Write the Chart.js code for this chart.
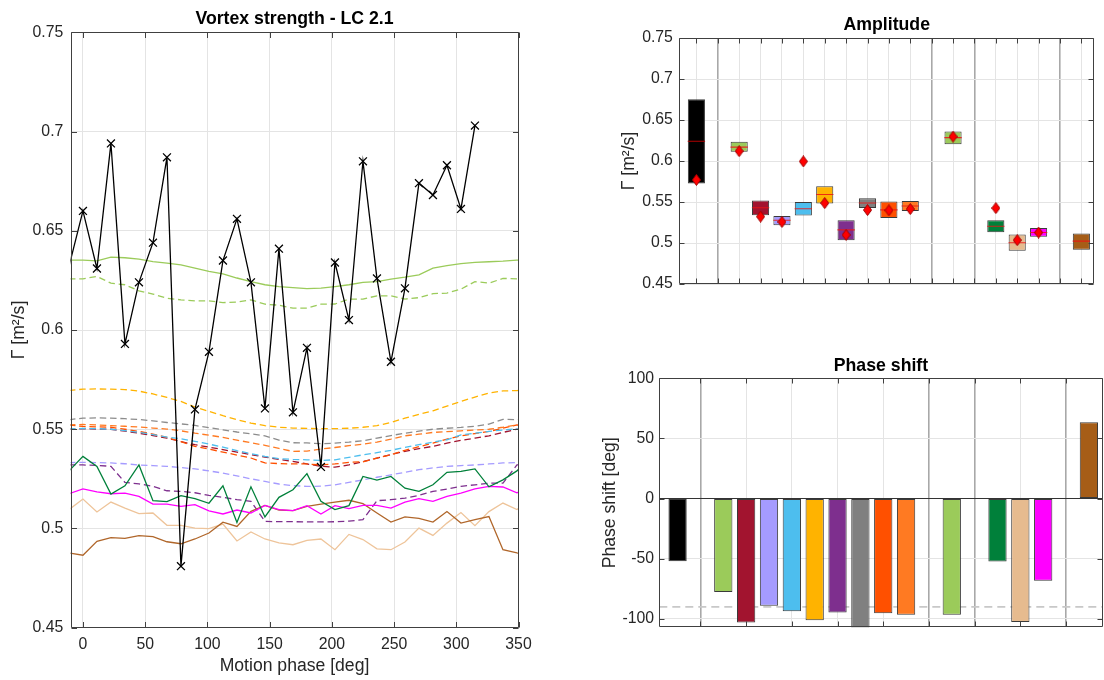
<!DOCTYPE html>
<html><head><meta charset="utf-8">
<script src="https://cdn.jsdelivr.net/npm/chart.js@4.4.1/dist/chart.umd.min.js"></script>
<style>
html,body{margin:0;padding:0;background:#fff;overflow:hidden;width:1104px;height:680px;}
canvas{position:absolute;}
#c1{left:0;top:0;}
#c2{left:560px;top:0;}
#c3{left:560px;top:330px;}
</style></head><body>
<canvas id="c1" width="560" height="680"></canvas>
<canvas id="c2" width="544" height="300"></canvas>
<canvas id="c3" width="544" height="350"></canvas>
<script>
// ---------- data: vortex strength vs motion phase ----------
const phases = [-11.25,0,11.25,22.5,33.75,45,56.25,67.5,78.75,90,101.25,112.5,123.75,135,146.25,157.5,168.75,180,191.25,202.5,213.75,225,236.25,247.5,258.75,270,281.25,292.5,303.75,315,326.25,337.5,348.75,360];
const measured = [0.632,0.660,0.631,0.694,0.593,0.624,0.644,0.687,0.481,0.560,0.589,0.635,0.656,0.624,0.5605,0.641,0.5585,0.591,0.531,0.634,0.605,0.685,0.626,0.584,0.621,0.674,0.668,0.683,0.661,0.703,null,null,null,null];
const lightGreenSolid = [0.6352,0.6352,0.6348,0.6367,0.6364,0.6357,0.6345,0.6337,0.6328,0.6312,0.6295,0.6283,0.6262,0.6244,0.6228,0.6219,0.6213,0.6208,0.6211,0.6219,0.6228,0.624,0.6244,0.6256,0.6266,0.6278,0.6312,0.6324,0.6334,0.6341,0.6344,0.6347,0.6352,0.6352];
const lightGreenDashed = [0.6258,0.6258,0.627,0.6236,0.6228,0.6197,0.6181,0.616,0.6152,0.6147,0.6147,0.6138,0.6141,0.6152,0.613,0.6125,0.611,0.611,0.613,0.6131,0.6156,0.6156,0.6172,0.6172,0.6156,0.6163,0.6183,0.6186,0.6206,0.6244,0.6236,0.626,0.6258,0.6258];
const goldDashed = [0.5695,0.5702,0.5703,0.5702,0.57,0.5692,0.5678,0.566,0.564,0.5612,0.559,0.5568,0.5548,0.5531,0.5518,0.551,0.5506,0.5504,0.5503,0.5503,0.5505,0.551,0.5518,0.5534,0.5556,0.5575,0.5593,0.5617,0.564,0.5662,0.5682,0.5693,0.5695,0.5702];
const grayDashed = [0.5548,0.5556,0.5557,0.5556,0.5553,0.5549,0.5542,0.5534,0.5527,0.5519,0.5508,0.5497,0.5486,0.5477,0.5467,0.5445,0.5432,0.5431,0.5427,0.543,0.5435,0.5442,0.5455,0.5468,0.548,0.549,0.55,0.5505,0.5509,0.5515,0.5526,0.555,0.5548,0.5556];
const orangeDashed = [0.5522,0.5524,0.5522,0.5518,0.5515,0.5511,0.5506,0.5501,0.5492,0.548,0.547,0.5459,0.5445,0.5432,0.5419,0.5403,0.5388,0.539,0.54,0.5408,0.5417,0.5425,0.5435,0.545,0.5467,0.5475,0.5484,0.5488,0.5492,0.5496,0.55,0.551,0.5522,0.5524];
const orangeRedDashed = [0.5522,0.5514,0.5512,0.551,0.55,0.5489,0.5475,0.5459,0.5437,0.5414,0.54,0.5385,0.537,0.5355,0.533,0.5327,0.5325,0.5325,0.532,0.5325,0.5333,0.5336,0.5355,0.5372,0.5394,0.5412,0.543,0.545,0.5467,0.5478,0.5489,0.5505,0.5522,0.5514];
const lightBlueDashed = [0.5502,0.5504,0.5503,0.55,0.5493,0.5484,0.5473,0.546,0.5452,0.5439,0.5425,0.541,0.5392,0.5377,0.5363,0.5352,0.5348,0.5346,0.5343,0.5346,0.5358,0.5371,0.5382,0.5394,0.5408,0.5422,0.5435,0.5447,0.5472,0.548,0.5489,0.5496,0.5502,0.5504];
const darkRedDashed = [0.55,0.5502,0.5501,0.55,0.549,0.548,0.5468,0.5455,0.5438,0.5422,0.541,0.5397,0.5385,0.5372,0.536,0.5348,0.5338,0.5325,0.5313,0.5309,0.532,0.5337,0.5355,0.5372,0.5389,0.5402,0.5414,0.543,0.5444,0.5455,0.5467,0.5484,0.55,0.5502];
const lavenderDashed = [0.5332,0.5333,0.5332,0.533,0.5326,0.532,0.5317,0.5313,0.5307,0.53,0.529,0.5279,0.5265,0.525,0.5237,0.5224,0.5216,0.5212,0.5213,0.522,0.5232,0.5245,0.5258,0.527,0.5283,0.5296,0.5305,0.5313,0.5317,0.532,0.5325,0.533,0.5332,0.5333];
const purpleDashed = [0.532,0.532,0.5318,0.5313,0.5232,0.5225,0.5212,0.519,0.5187,0.518,0.5167,0.5157,0.5145,0.5137,0.5036,0.5034,0.5034,0.5033,0.5033,0.5034,0.5037,0.5044,0.514,0.5145,0.5153,0.5167,0.5187,0.5198,0.5212,0.522,0.5228,0.5228,0.532,0.532];
const darkGreenSolid = [0.529,0.5363,0.5313,0.5173,0.5215,0.532,0.514,0.5135,0.5165,0.515,0.5127,0.5215,0.503,0.521,0.5058,0.5157,0.5195,0.5276,0.5137,0.5095,0.5115,0.5262,0.5244,0.5262,0.5203,0.5187,0.522,0.5283,0.5288,0.53,0.521,0.5245,0.529,0.5363];
const magentaSolid = [0.5175,0.5199,0.5184,0.5175,0.5178,0.5162,0.5123,0.5123,0.5111,0.512,0.5089,0.5073,0.5093,0.5078,0.5116,0.5095,0.509,0.5115,0.5073,0.5115,0.51,0.5116,0.5116,0.5103,0.5133,0.515,0.5137,0.5162,0.5178,0.5199,0.5212,0.5209,0.518,0.5199];
const tanSolid = [0.5095,0.5148,0.5083,0.5133,0.5103,0.5075,0.5078,0.5016,0.5016,0.5002,0.4999,0.5022,0.4937,0.4982,0.4947,0.4927,0.4918,0.494,0.4947,0.4893,0.497,0.4944,0.4897,0.4893,0.4932,0.5002,0.4965,0.5027,0.508,0.5014,0.5085,0.5128,0.5095,0.5148];
const brownSolid = [0.4877,0.4865,0.4935,0.4954,0.495,0.4964,0.4959,0.4933,0.4923,0.4947,0.4977,0.5032,0.501,0.5086,0.5116,0.5093,0.509,0.5111,0.5123,0.5133,0.5142,0.5125,0.5078,0.5032,0.5058,0.5051,0.5032,0.5085,0.5027,0.5044,0.506,0.4893,0.4877,0.4865];

const phaseTicks = [0,50,100,150,200,250,300,350];
const gammaTicks = [0.45,0.5,0.55,0.6,0.65,0.7,0.75];
const gammaTickLabels = ['0.45','0.5','0.55','0.6','0.65','0.7','0.75'];

// ---------- data: amplitude & phase shift per case ----------
const casePos = [1,3,4,5,6,7,8,9,10,11,13,15,16,17,19];
const ampLow    = [0.5726,0.6113,0.5339,0.5218,0.5335,0.5484,0.5036,0.5427,0.5306,0.5391,0.6206,0.5133,0.4907,0.5077,0.4919];
const ampHigh   = [0.6754,0.6234,0.552,0.5331,0.55,0.5694,0.5278,0.5548,0.5508,0.5512,0.6359,0.5278,0.5105,0.5185,0.5117];
const ampMedian = [0.6242,0.617,0.5431,0.5278,0.5419,0.5593,0.5161,0.5488,0.5405,0.5452,0.6286,0.5206,0.5004,0.5129,0.5024];
const ampMarker = [0.577,0.6121,0.5323,0.5258,0.5996,0.5488,0.51,0.5403,0.5399,0.5415,0.6298,0.5427,0.5036,0.5129,null];
const phaseShift = [-52,-77.6,-103,-89.1,-93.7,-101.1,-94.8,-112,-95.4,-96.5,-96.5,-52.2,-102.6,-68.2,63.4];
const phaseReference = [-90];
const caseTicks = [1,2,3,4,5,6,7,8,9,10,11,12,13,14,15,16,17,18,19];
const phaseCaseTicks = [2,4,6,8,10,12,14,16,18];
const groupSeparators = [2,12,14,18];
const phaseShiftTicks = [-100,-50,0,50,100];
const phaseShiftLabels = ['-100','-50','0','50','100'];

// ---------- styles ----------
const caseColors = ['#000000','#9BCB5A','#A2142F','#A59BFF','#4DBEEE','#FFB300','#7E2F8E','#808080','#FF5000','#FF7A22','#9BCB5A','#00803A','#E6BB8F','#FF00FF','#A65D17'];
const FONT = "'Liberation Sans', Arial, Helvetica, sans-serif";
Chart.defaults.font.family = FONT;
Chart.defaults.color = '#262626';
const TICK_FONT = {size: 15.8};
const LABEL_FONT = {size: 17.6};
const TITLE_FONT = {size: 17.7, weight: 'bold'};
const GRID = '#e4e4e4';
const AXIS = '#404040';

const frame = {
  id: 'frame',
  afterDatasetsDraw(chart, args, opts) {
    const {ctx, chartArea: a, scales} = chart;
    const L = Math.round(a.left) + 0.5, R = Math.round(a.right) - 0.5;
    const T = Math.round(a.top) + 0.5, B = Math.round(a.bottom) - 0.5;
    const len = opts.len || 5;
    ctx.save();
    ctx.strokeStyle = AXIS; ctx.lineWidth = 1;
    ctx.beginPath();
    ctx.rect(L, T, R - L, B - T);
    scales.x.ticks.forEach(t => {
      const p = Math.round(scales.x.getPixelForValue(t.value)) + 0.5;
      ctx.moveTo(p, B); ctx.lineTo(p, B - len);
      ctx.moveTo(p, T); ctx.lineTo(p, T + len);
    });
    scales.y.ticks.forEach(t => {
      const p = Math.round(scales.y.getPixelForValue(t.value)) + 0.5;
      ctx.moveTo(L, p); ctx.lineTo(L + len, p);
      ctx.moveTo(R, p); ctx.lineTo(R - len, p);
    });
    ctx.stroke();
    ctx.restore();
  }
};

const refLine = {
  id: 'refLine',
  beforeDatasetsDraw(chart, args, opts) {
    if (!opts.values) return;
    const {ctx, chartArea: a, scales} = chart;
    ctx.save();
    ctx.strokeStyle = opts.color; ctx.lineWidth = opts.width; ctx.setLineDash(opts.dash);
    opts.values.forEach(v => {
      const y = scales.y.getPixelForValue(v);
      ctx.beginPath(); ctx.moveTo(a.left, y); ctx.lineTo(a.right, y); ctx.stroke();
    });
    ctx.restore();
  }
};

function setTicks(values) { return s => { s.ticks = values.map(v => ({value: v})); }; }
function labelFrom(values, labels) { return v => { const i = values.indexOf(v); return i >= 0 ? labels[i] : ''; }; }

// ---------- left chart ----------
const X_MIN = -10, X_MAX = 350;
const pts = arr => phases.map((p, i) => ({x: p, y: arr[i]}));
const lineSets = [
  ['measured', measured, '#000000', false],
  ['lgS', lightGreenSolid, '#9BCB5A', false],
  ['dgS', darkGreenSolid, '#00803A', false],
  ['mgS', magentaSolid, '#FF00FF', false],
  ['brS', brownSolid, '#B0662A', false],
  ['tnS', tanSolid, '#EEC49A', false],
  ['lgD', lightGreenDashed, '#9BCB5A', true],
  ['goD', goldDashed, '#FFB300', true],
  ['grD', grayDashed, '#8C8C8C', true],
  ['orD', orangeDashed, '#FF7A22', true],
  ['lbD', lightBlueDashed, '#4DBEEE', true],
  ['orrD', orangeRedDashed, '#FF5000', true],
  ['drD', darkRedDashed, '#A2142F', true],
  ['lvD', lavenderDashed, '#A59BFF', true],
  ['puD', purpleDashed, '#7E2F8E', true]
];
new Chart(document.getElementById('c1'), {
  type: 'line',
  data: {
    datasets: lineSets.map(([name, arr, col, dashed], idx) => ({
      label: name,
      data: pts(arr),
      borderColor: col,
      backgroundColor: col,
      borderWidth: 1.3,
      borderDash: dashed ? [6.5, 3.8] : [],
      tension: 0,
      spanGaps: false,
      pointStyle: 'crossRot',
      pointRadius: idx === 0 ? (c => (c.raw && c.raw.x >= X_MIN) ? 5.6 : 0) : 0,
      pointBorderWidth: 1.3,
      pointBorderColor: col,
      pointHoverRadius: 0
    }))
  },
  options: {
    responsive: false, animation: false, devicePixelRatio: 1,
    layout: {padding: {left: 0, right: 41.5, top: 0, bottom: 0}},
    plugins: {
      legend: {display: false}, tooltip: {enabled: false},
      title: {display: true, text: 'Vortex strength - LC 2.1', fullSize: false, color: '#000', font: TITLE_FONT, padding: {top: 8.6, bottom: 2.46}},
      frame: {len: 5.5}
    },
    scales: {
      x: {
        type: 'linear', min: X_MIN, max: X_MAX,
        afterBuildTicks: setTicks(phaseTicks),
        afterFit: s => { s.height = 52.3; },
        grid: {color: GRID, drawTicks: false},
        border: {display: false},
        ticks: {font: TICK_FONT, padding: 7.8, maxRotation: 0, autoSkip: false, callback: v => String(v)},
        title: {display: true, text: 'Motion phase [deg]', font: LABEL_FONT, padding: {top: 0, bottom: 2.9}}
      },
      y: {
        type: 'linear', min: 0.45, max: 0.75,
        afterBuildTicks: setTicks(gammaTicks),
        afterFit: s => { s.width = 70.5; },
        grid: {color: GRID, drawTicks: false},
        border: {display: false},
        ticks: {font: TICK_FONT, padding: 7.2, autoSkip: false, callback: labelFrom(gammaTicks, gammaTickLabels)},
        title: {display: true, text: 'Γ [m²/s]', font: LABEL_FONT, padding: {top: 8.5, bottom: 0}}
      }
    }
  },
  plugins: [frame]
});

// ---------- diamond marker ----------
function diamond(w, h, fill, stroke) {
  const c = document.createElement('canvas');
  c.width = w; c.height = h;
  const g = c.getContext('2d');
  g.beginPath();
  g.moveTo(w / 2, 0.5); g.lineTo(w - 0.5, h / 2); g.lineTo(w / 2, h - 0.5); g.lineTo(0.5, h / 2); g.closePath();
  g.fillStyle = fill; g.fill();
  g.strokeStyle = stroke; g.lineWidth = 1; g.stroke();
  return c;
}
const redDiamond = diamond(9, 12, '#FF0000', '#9E0000');

const sepColor = c => groupSeparators.includes(c.tick && c.tick.value) ? '#a8a8a8' : GRID;
const sepWidth = c => groupSeparators.includes(c.tick && c.tick.value) ? 1.6 : 1;

// ---------- amplitude chart ----------
new Chart(document.getElementById('c2'), {
  type: 'bar',
  data: {
    datasets: [
      {
        type: 'scatter', label: 'marker',
        data: casePos.map((p, i) => ({x: p, y: ampMarker[i]})),
        pointStyle: redDiamond, pointRadius: 6, pointHoverRadius: 6
      },
      {
        type: 'scatter', label: 'median',
        data: casePos.map((p, i) => ({x: p, y: ampMedian[i]})),
        pointStyle: 'line', pointRadius: 8.7, pointHoverRadius: 8.7,
        pointBorderWidth: 1.1,
        pointBorderColor: casePos.map((p, i) => i === 0 ? '#B00000' : 'rgba(235,20,20,0.85)')
      },
      {
        label: 'range',
        data: casePos.map((p, i) => ({x: p, y: [ampLow[i], ampHigh[i]]})),
        backgroundColor: caseColors,
        borderColor: '#3a3a3a',
        borderWidth: 1,
        borderSkipped: false,
        barPercentage: 0.8, categoryPercentage: 1
      }
    ]
  },
  options: {
    responsive: false, animation: false, devicePixelRatio: 1,
    layout: {padding: {left: 0, right: 1.8, top: 0, bottom: 0}},
    plugins: {
      legend: {display: false}, tooltip: {enabled: false},
      title: {display: true, text: 'Amplitude', fullSize: false, color: '#000', font: TITLE_FONT, padding: {top: 14.6, bottom: 2.16}},
      frame: {len: 5}
    },
    scales: {
      x: {
        type: 'linear', min: 0.2, max: 19.6, offset: false,
        afterBuildTicks: setTicks(caseTicks),
        afterFit: s => { s.height = 14.3; },
        grid: {color: sepColor, lineWidth: sepWidth, drawTicks: false, offset: false},
        border: {display: false},
        ticks: {display: false}
      },
      y: {
        type: 'linear', min: 0.45, max: 0.75, beginAtZero: false,
        afterBuildTicks: setTicks(gammaTicks),
        afterFit: s => { s.width = 119.3; },
        grid: {color: GRID, drawTicks: false},
        border: {display: false},
        ticks: {font: TICK_FONT, padding: 6.4, autoSkip: false, callback: labelFrom(gammaTicks, gammaTickLabels)},
        title: {display: true, text: 'Γ [m²/s]', font: LABEL_FONT, padding: {top: 58.7, bottom: 0}}
      }
    }
  },
  plugins: [frame]
});

// ---------- phase shift chart ----------
new Chart(document.getElementById('c3'), {
  type: 'bar',
  data: {
    datasets: [{
      label: 'phase',
      data: casePos.map((p, i) => ({x: p, y: phaseShift[i]})),
      backgroundColor: caseColors,
      borderColor: '#3a3a3a',
      borderWidth: 1,
      borderSkipped: false,
      barPercentage: 0.8, categoryPercentage: 1
    }]
  },
  options: {
    responsive: false, animation: false, devicePixelRatio: 1,
    layout: {padding: {left: 0, right: 1.4, top: 0, bottom: 0}},
    plugins: {
      legend: {display: false}, tooltip: {enabled: false},
      title: {display: true, text: 'Phase shift', fullSize: false, color: '#000', font: TITLE_FONT, padding: {top: 25.6, bottom: 1.46}},
      frame: {len: 5},
      refLine: {values: phaseReference, color: '#c8c8c8', width: 1.6, dash: [8, 5]}
    },
    scales: {
      x: {
        type: 'linear', min: 0.2, max: 19.6, offset: false,
        afterBuildTicks: setTicks(phaseCaseTicks),
        afterFit: s => { s.height = 52.7; },
        grid: {color: sepColor, lineWidth: sepWidth, drawTicks: false, offset: false},
        border: {display: false},
        ticks: {display: false}
      },
      y: {
        type: 'linear', min: -107, max: 100, beginAtZero: false,
        afterBuildTicks: setTicks(phaseShiftTicks),
        afterFit: s => { s.width = 99.3; },
        grid: {color: c => (c.tick && c.tick.value === 0) ? '#333333' : GRID, drawTicks: false},
        border: {display: false},
        ticks: {font: TICK_FONT, padding: 5.3, autoSkip: false, callback: labelFrom(phaseShiftTicks, phaseShiftLabels)},
        title: {display: true, text: 'Phase shift [deg]', font: LABEL_FONT, padding: {top: 39.4, bottom: 0}}
      }
    }
  },
  plugins: [frame, refLine]
});
</script>
</body></html>
